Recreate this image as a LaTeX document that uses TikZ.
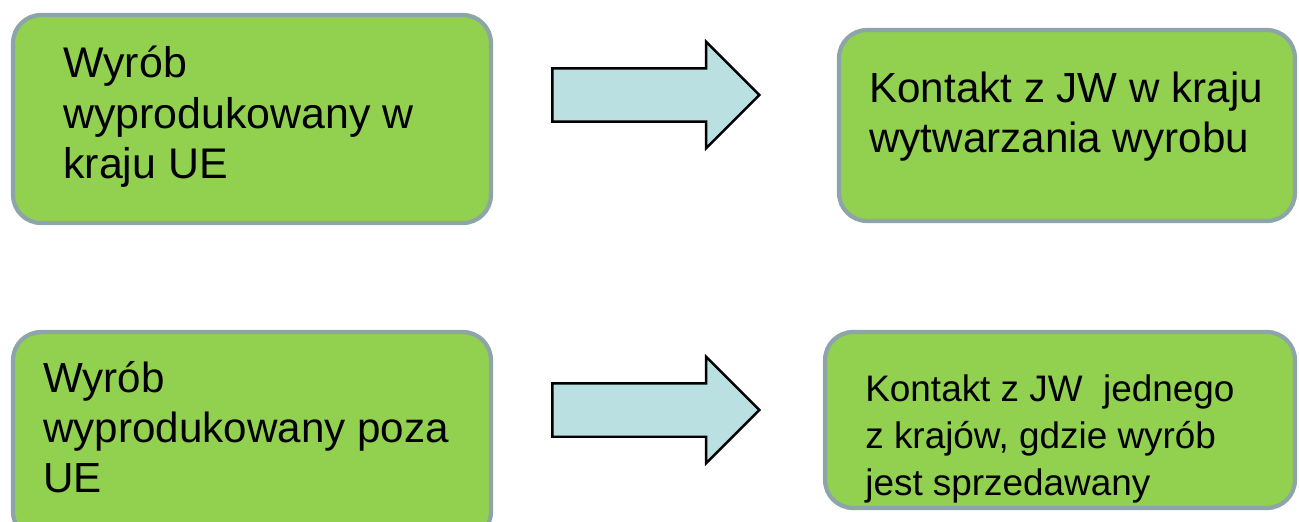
\documentclass[tikz,border=0pt]{standalone}
\usepackage{fontspec}
\setmainfont{Liberation Sans}
\usetikzlibrary{shapes.arrows}
\definecolor{zielen}{HTML}{92D050}
\definecolor{ramka}{HTML}{8DA5A8}
\definecolor{blekit}{HTML}{BAE0E2}
\tikzset{
  pole/.style={draw=ramka,line width=2.4pt,fill=zielen,rounded corners=0.56cm,inner sep=0pt},
  tekst/.style={anchor=base west,align=left,inner sep=0pt},
  strzalka/.style={single arrow,draw=black,line width=1.4pt,fill=blekit,
    minimum height=4.14cm,single arrow head extend=0.53cm,
    inner xsep=0pt,inner ysep=0.51cm,text width=0pt,text height=0pt,text depth=0pt}
}
\begin{document}
\begin{tikzpicture}[x=0.02cm,y=-0.02cm]
  \useasboundingbox (0,0) rectangle (1299,521);
  % lewa kolumna
  \node[pole,minimum width=9.56cm,minimum height=4.16cm] (wyrobUE) at (252,119) {};
  \node[pole,minimum width=9.56cm,minimum height=4.16cm] (wyrobPoza) at (252,436) {};
  % prawa kolumna
  \node[pole,minimum width=9.12cm,minimum height=3.82cm] (kontaktUE) at (1067,125.5) {};
  \node[pole,minimum width=9.4cm,minimum height=3.52cm] (kontaktPoza) at (1060,420) {};
  % teksty (base = linia bazowa ostatniego wiersza)
  \node[tekst,font=\fontsize{24.4pt}{28.7pt}\selectfont] (opisUE) at (63,178.7)
    {Wyrób\\wyprodukowany w\\kraju UE};
  \node[tekst,font=\fontsize{24pt}{28.5pt}\selectfont] (opisPoza) at (43,492.5)
    {Wyrób\\wyprodukowany poza\\UE};
  \node[tekst,font=\fontsize{24pt}{28.5pt}\selectfont] (opisKontaktUE) at (869,152.2)
    {Kontakt z JW w kraju\\wytwarzania wyrobu};
  \node[tekst,font=\fontsize{21pt}{26.6pt}\selectfont] (opisKontaktPoza) at (865,495.4)
    {Kontakt z JW\ \ jednego\\z krajów, gdzie wyrób\\jest sprzedawany};
  % strzalki
  \foreach[count=\i] \y in {95,410} {
    \node[strzalka] (strzalka\i) at (642.5,\y) {};
  }
\end{tikzpicture}
\end{document}
